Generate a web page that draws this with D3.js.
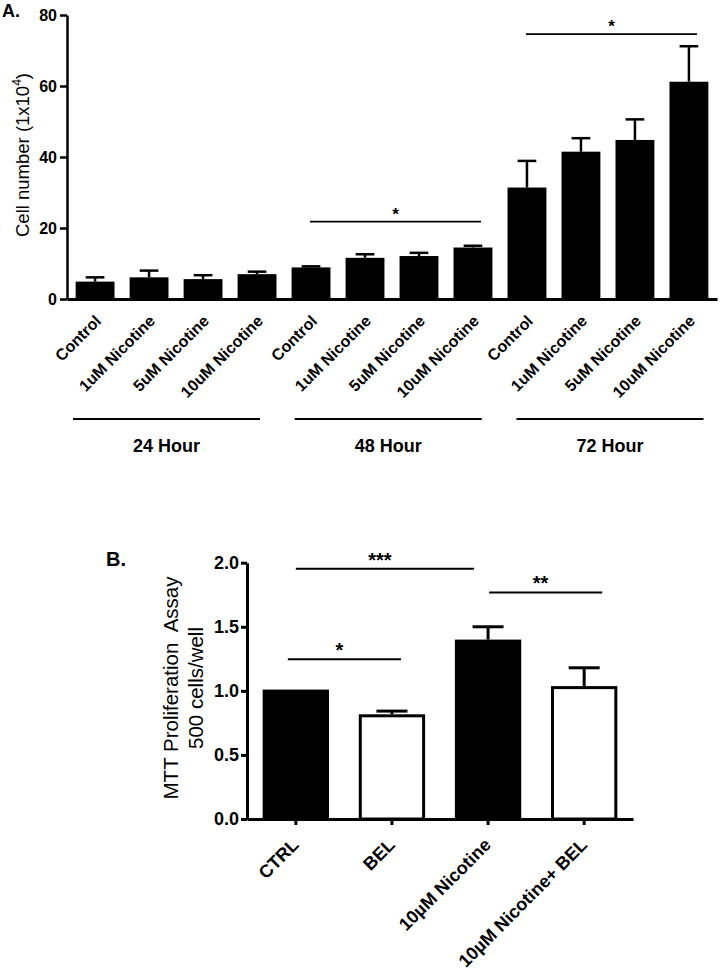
<!DOCTYPE html>
<html><head><meta charset="utf-8">
<script src="https://cdn.jsdelivr.net/npm/d3@7"></script>
<style>
body{margin:0;background:#fff}
svg{display:block}
text{font-family:"Liberation Sans",Arial,sans-serif;fill:#000}
</style>
</head><body>
<svg id="c" width="720" height="976"></svg>
<script>
// ---------- Panel A data ----------
const groupsA = ["24 Hour", "48 Hour", "72 Hour"];
const treatmentsA = ["Control", "1uM Nicotine", "5uM Nicotine", "10uM Nicotine"];
const meansA = [4.9, 6.1, 5.6, 7.0, 8.9, 11.6, 12.1, 14.5, 31.4, 41.5, 44.8, 61.2];
const errA = [1.2, 1.9, 1.1, 0.7, 0.3, 1.0, 0.9, 0.5, 7.5, 3.8, 5.8, 10.0];
const ticksA = [0, 20, 40, 60, 80];
const sigGroupsA = ["48 Hour", "72 Hour"];
const sigLevelsA = [21.8, 74.6];
const sigLabelsA = ["*", "*"];

// ---------- Panel B data ----------
const categoriesB = ["CTRL", "BEL", "10\u00B5M Nicotine", "10\u00B5M Nicotine+ BEL"];
const meansB = [1.01, 0.817, 1.40, 1.037];
const errB = [0, 0.025, 0.10, 0.143];
const ticksB = [0, 0.5, 1.0, 1.5, 2.0];
const sigFromB = ["CTRL", "CTRL", "10\u00B5M Nicotine"];
const sigToB = ["10\u00B5M Nicotine", "BEL", "10\u00B5M Nicotine+ BEL"];
const sigLevelsB = [1.953, 1.246, 1.768];
const sigLabelsB = ["***", "*", "**"];

const svg = d3.select("#c");

// ================= PANEL A =================
const keysA = groupsA.flatMap(g => treatmentsA.map(t => g + "|" + t));
const xA = d3.scaleBand(keysA, [67, 717]).paddingInner(0.28).paddingOuter(0.16);
const yA = d3.scaleLinear([0, 80], [299, 15]);
const gA = svg.append("g");
const bwA = xA.bandwidth();

gA.selectAll("rect.bar").data(keysA).join("rect")
  .attr("class", "bar")
  .attr("x", k => xA(k))
  .attr("y", (k, i) => yA(meansA[i]))
  .attr("width", bwA)
  .attr("height", (k, i) => yA(0) - yA(meansA[i]))
  .attr("fill", "#000");

const capA = bwA * 0.48;
keysA.forEach((k, i) => {
  const cx = xA(k) + bwA / 2;
  const top = yA(meansA[i] + errA[i]);
  gA.append("line").attr("x1", cx).attr("x2", cx).attr("y1", yA(meansA[i])).attr("y2", top)
    .attr("stroke", "#000").attr("stroke-width", 2.5);
  gA.append("line").attr("x1", cx - capA / 2).attr("x2", cx + capA / 2).attr("y1", top).attr("y2", top)
    .attr("stroke", "#000").attr("stroke-width", 2.5);
});

const axA = gA.append("g").attr("transform", "translate(67,0)")
  .call(d3.axisLeft(yA).tickValues(ticksA).tickSize(7).tickPadding(3).tickSizeOuter(0));
axA.select(".domain").attr("stroke-width", 2.5);
axA.selectAll(".tick line").attr("stroke-width", 2.5);
axA.selectAll("text").attr("font-size", 16).attr("font-weight", "bold");

const bxA = gA.append("g").attr("transform", "translate(0,299)")
  .call(d3.axisBottom(xA).tickSize(0).tickSizeOuter(0).tickFormat(k => k.split("|")[1]));
bxA.select(".domain").attr("stroke-width", 3);
bxA.selectAll("text")
  .attr("y", 0).attr("dy", 0)
  .attr("transform", "translate(7,23) rotate(-45)")
  .attr("text-anchor", "end")
  .attr("font-size", 16).attr("font-weight", "bold");

// group brackets
const gxA = d3.scalePoint(groupsA, [166.5, 610]);
groupsA.forEach(g => {
  const c = gxA(g);
  gA.append("line").attr("x1", c - 93.5).attr("x2", c + 93.5).attr("y1", 419).attr("y2", 419)
    .attr("stroke", "#000").attr("stroke-width", 2);
  gA.append("text").attr("x", c).attr("y", 452).attr("text-anchor", "middle")
    .attr("font-size", 18).attr("font-weight", "bold").text(g);
});

// significance A
sigGroupsA.forEach((g, i) => {
  const x1 = xA(g + "|" + treatmentsA[0]) + bwA / 2 - 1;
  const x2 = xA(g + "|" + treatmentsA[treatmentsA.length - 1]) + bwA / 2 + 8;
  const y = yA(sigLevelsA[i]);
  gA.append("line").attr("x1", x1).attr("x2", x2).attr("y1", y).attr("y2", y)
    .attr("stroke", "#000").attr("stroke-width", 1.8);
  gA.append("text").attr("x", (x1 + x2) / 2).attr("y", y - 2).attr("text-anchor", "middle")
    .attr("font-size", 17).attr("font-weight", "bold").text(sigLabelsA[i]);
});

// y label A
gA.append("text").attr("transform", "translate(29,155) rotate(-90)").attr("text-anchor", "middle")
  .attr("font-size", 18.5)
  .call(t => {
    t.append("tspan").text("Cell number (1x10");
    t.append("tspan").attr("font-size", 12).attr("dy", -8).text("4");
    t.append("tspan").attr("dy", 8).text(")");
  });
svg.append("text").attr("x", 2).attr("y", 17).attr("font-size", 18).attr("font-weight", "bold").text("A.");

// ================= PANEL B =================
const xB = d3.scaleBand(categoriesB, [247, 633]).paddingInner(0.31).paddingOuter(0.163);
const yB = d3.scaleLinear([0, 2], [819, 562.7]);
const gB = svg.append("g");
const bwB = xB.bandwidth();
const isWhite = c => c.includes("BEL");

gB.selectAll("rect.bar").data(categoriesB).join("rect")
  .attr("class", "bar")
  .attr("x", c => xB(c) + 1.5)
  .attr("y", (c, i) => yB(meansB[i]) + 1.5)
  .attr("width", bwB - 3)
  .attr("height", (c, i) => yB(0) - yB(meansB[i]) - 1.5)
  .attr("fill", c => isWhite(c) ? "#fff" : "#000")
  .attr("stroke", "#000").attr("stroke-width", 3);

const capB = 31;
categoriesB.forEach((c, i) => {
  if (errB[i] <= 0) return;
  const cx = xB(c) + bwB / 2;
  const top = yB(meansB[i] + errB[i]);
  gB.append("line").attr("x1", cx).attr("x2", cx).attr("y1", yB(meansB[i])).attr("y2", top)
    .attr("stroke", "#000").attr("stroke-width", 3);
  gB.append("line").attr("x1", cx - capB / 2).attr("x2", cx + capB / 2).attr("y1", top).attr("y2", top)
    .attr("stroke", "#000").attr("stroke-width", 3);
});

const axB = gB.append("g").attr("transform", "translate(247,0)")
  .call(d3.axisLeft(yB).tickValues(ticksB).tickFormat(d3.format(".1f")).tickSize(6).tickPadding(2).tickSizeOuter(0));
axB.select(".domain").attr("stroke-width", 3);
axB.selectAll(".tick line").attr("stroke-width", 3);
axB.selectAll("text").attr("font-size", 18).attr("font-weight", "bold");

const bxB = gB.append("g").attr("transform", "translate(0,819)")
  .call(d3.axisBottom(xB).tickSize(6).tickSizeOuter(0));
bxB.select(".domain").attr("stroke-width", 3);
bxB.selectAll(".tick line").attr("stroke-width", 3);
bxB.selectAll("text")
  .attr("y", 0).attr("dy", 0)
  .attr("transform", "translate(4,27) rotate(-45)")
  .attr("text-anchor", "end")
  .attr("font-size", 18).attr("font-weight", "bold");

// significance B
const sigNudge = [[0, -14], [-8, 9], [1, 18]];
sigFromB.forEach((f, i) => {
  const x1 = xB(f) + bwB / 2 + sigNudge[i][0];
  const x2 = xB(sigToB[i]) + bwB / 2 + sigNudge[i][1];
  const y = yB(sigLevelsB[i]);
  gB.append("line").attr("x1", x1).attr("x2", x2).attr("y1", y).attr("y2", y)
    .attr("stroke", "#000").attr("stroke-width", 2);
  gB.append("text").attr("x", (x1 + x2) / 2 - 5).attr("y", y - 2).attr("text-anchor", "middle")
    .attr("font-size", 20).attr("font-weight", "bold").text(sigLabelsB[i]);
});

// y label B
gB.append("text").attr("transform", "translate(178,688) rotate(-90)").attr("text-anchor", "middle")
  .attr("font-size", 20.5).style("white-space", "pre").text("MTT Proliferation  Assay");
gB.append("text").attr("transform", "translate(203,688) rotate(-90)").attr("text-anchor", "middle")
  .attr("font-size", 20.5).text("500 cells/well");
svg.append("text").attr("x", 106).attr("y", 566).attr("font-size", 20).attr("font-weight", "bold").text("B.");
</script>
</body></html>
